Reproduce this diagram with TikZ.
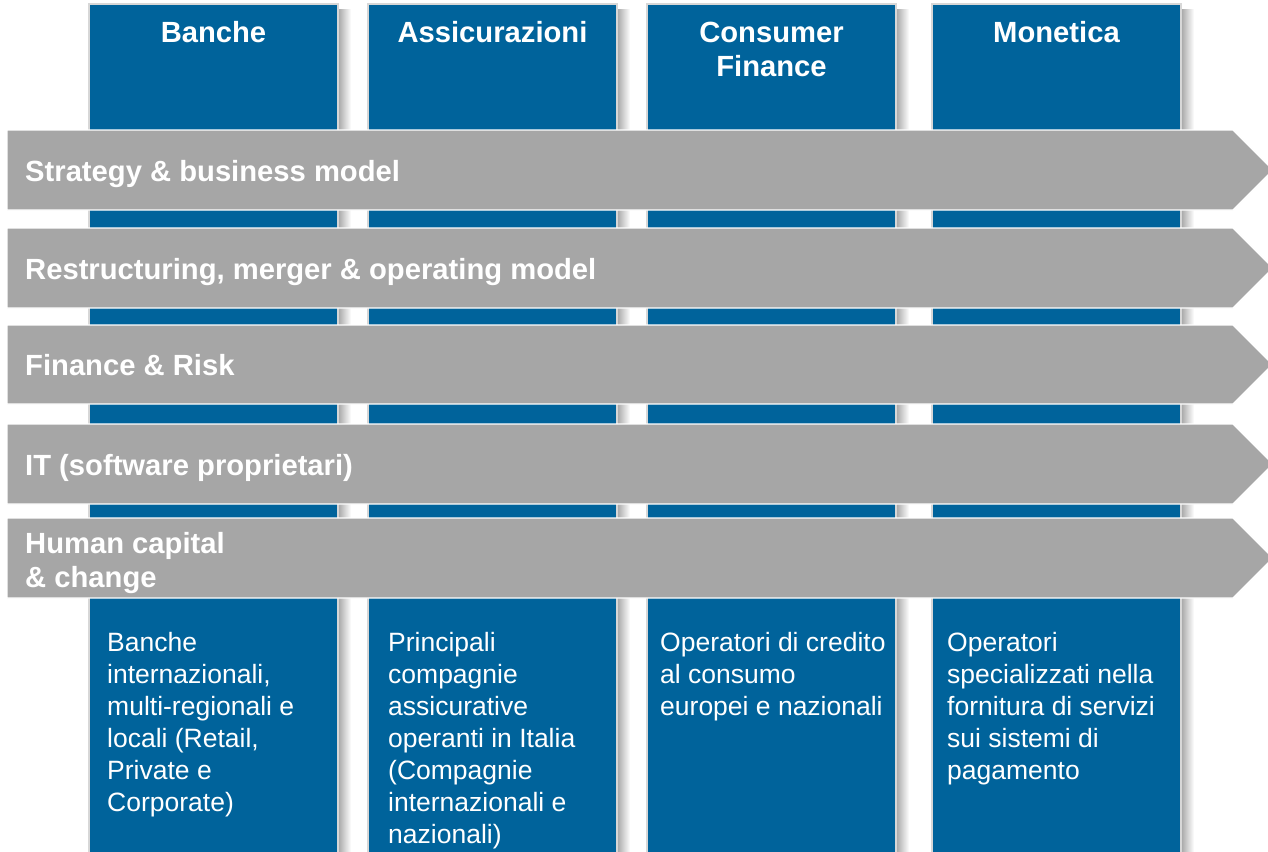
\documentclass[tikz,border=0pt]{standalone}
\usepackage{fontspec}
\setmainfont{Liberation Sans}
\definecolor{colblue}{RGB}{0,99,155}
\definecolor{bandgray}{RGB}{166,166,166}
\definecolor{edgegray}{RGB}{215,215,215}
\tikzset{
  colbox/.style={fill=colblue,draw=edgegray,line width=1.2pt},
  colshadow/.style={left color=black!35,right color=white,draw=none},
  band/.style={fill=bandgray,draw=white,line width=1.2pt},
  headtxt/.style={text=white,font=\bfseries\fontsize{29.2}{35}\selectfont,align=center,inner sep=0pt,anchor=base},
  bandtxt/.style={text=white,font=\bfseries\fontsize{29.2}{34}\selectfont,align=left,inner sep=0pt,anchor=base west},
  bodytxt/.style={text=white,font=\fontsize{26.5}{32}\selectfont,align=left,inner sep=0pt,anchor=base west}
}
\begin{document}
\begin{tikzpicture}[x=1pt,y=-1pt]
\useasboundingbox (0,0) rectangle (1268,851);
\begin{scope}
\clip (0,0) rectangle (1268,851);
% columns
\foreach \xl/\xr/\nm in {89/338/c1,368/617/c2,647/896/c3,932/1181/c4}{
  \shade[colshadow] (\xr,10) rectangle (\xr+13,860);
  \draw[colbox] (\xl,4) rectangle (\xr,855);
}
\node[headtxt] (h1) at (213.5,42) {Banche};
\node[headtxt] (h2) at (492.5,42) {Assicurazioni};
\node[headtxt] (h3) at (771.5,77) {Consumer\\Finance};
\node[headtxt] (h4) at (1056.5,42) {Monetica};
% bands
\foreach \yt/\yb in {130/210,228/308,325/404,424/504,518/598}{
  \draw[band] (7,\yt) -- (1233,\yt) -- ({1233+(\yb-\yt)/2},{(\yt+\yb)/2}) -- (1233,\yb) -- (7,\yb) -- cycle;
}
\end{scope}
\node[bandtxt] (b1) at (25,181) {Strategy \& business model};
\node[bandtxt] (b2) at (25,279) {Restructuring, merger \& operating model};
\node[bandtxt] (b3) at (25,375) {Finance \& Risk};
\node[bandtxt] (b4) at (25,475) {IT (software proprietari)};
\node[bandtxt] (b5) at (25,587) {Human capital\\\& change};
% body texts
\node[bodytxt] (t1) at (107,811) {Banche\\internazionali,\\multi-regionali e\\locali (Retail,\\Private e\\Corporate)};
\node[bodytxt] (t2) at (388,843) {Principali\\compagnie\\assicurative\\operanti in Italia\\(Compagnie\\internazionali e\\nazionali)};
\node[bodytxt] (t3) at (660,715) {Operatori di credito\\al consumo\\europei e nazionali};
\node[bodytxt] (t4) at (947,779) {Operatori\\specializzati nella\\fornitura di servizi\\sui sistemi di\\pagamento};
\end{tikzpicture}
\end{document}
